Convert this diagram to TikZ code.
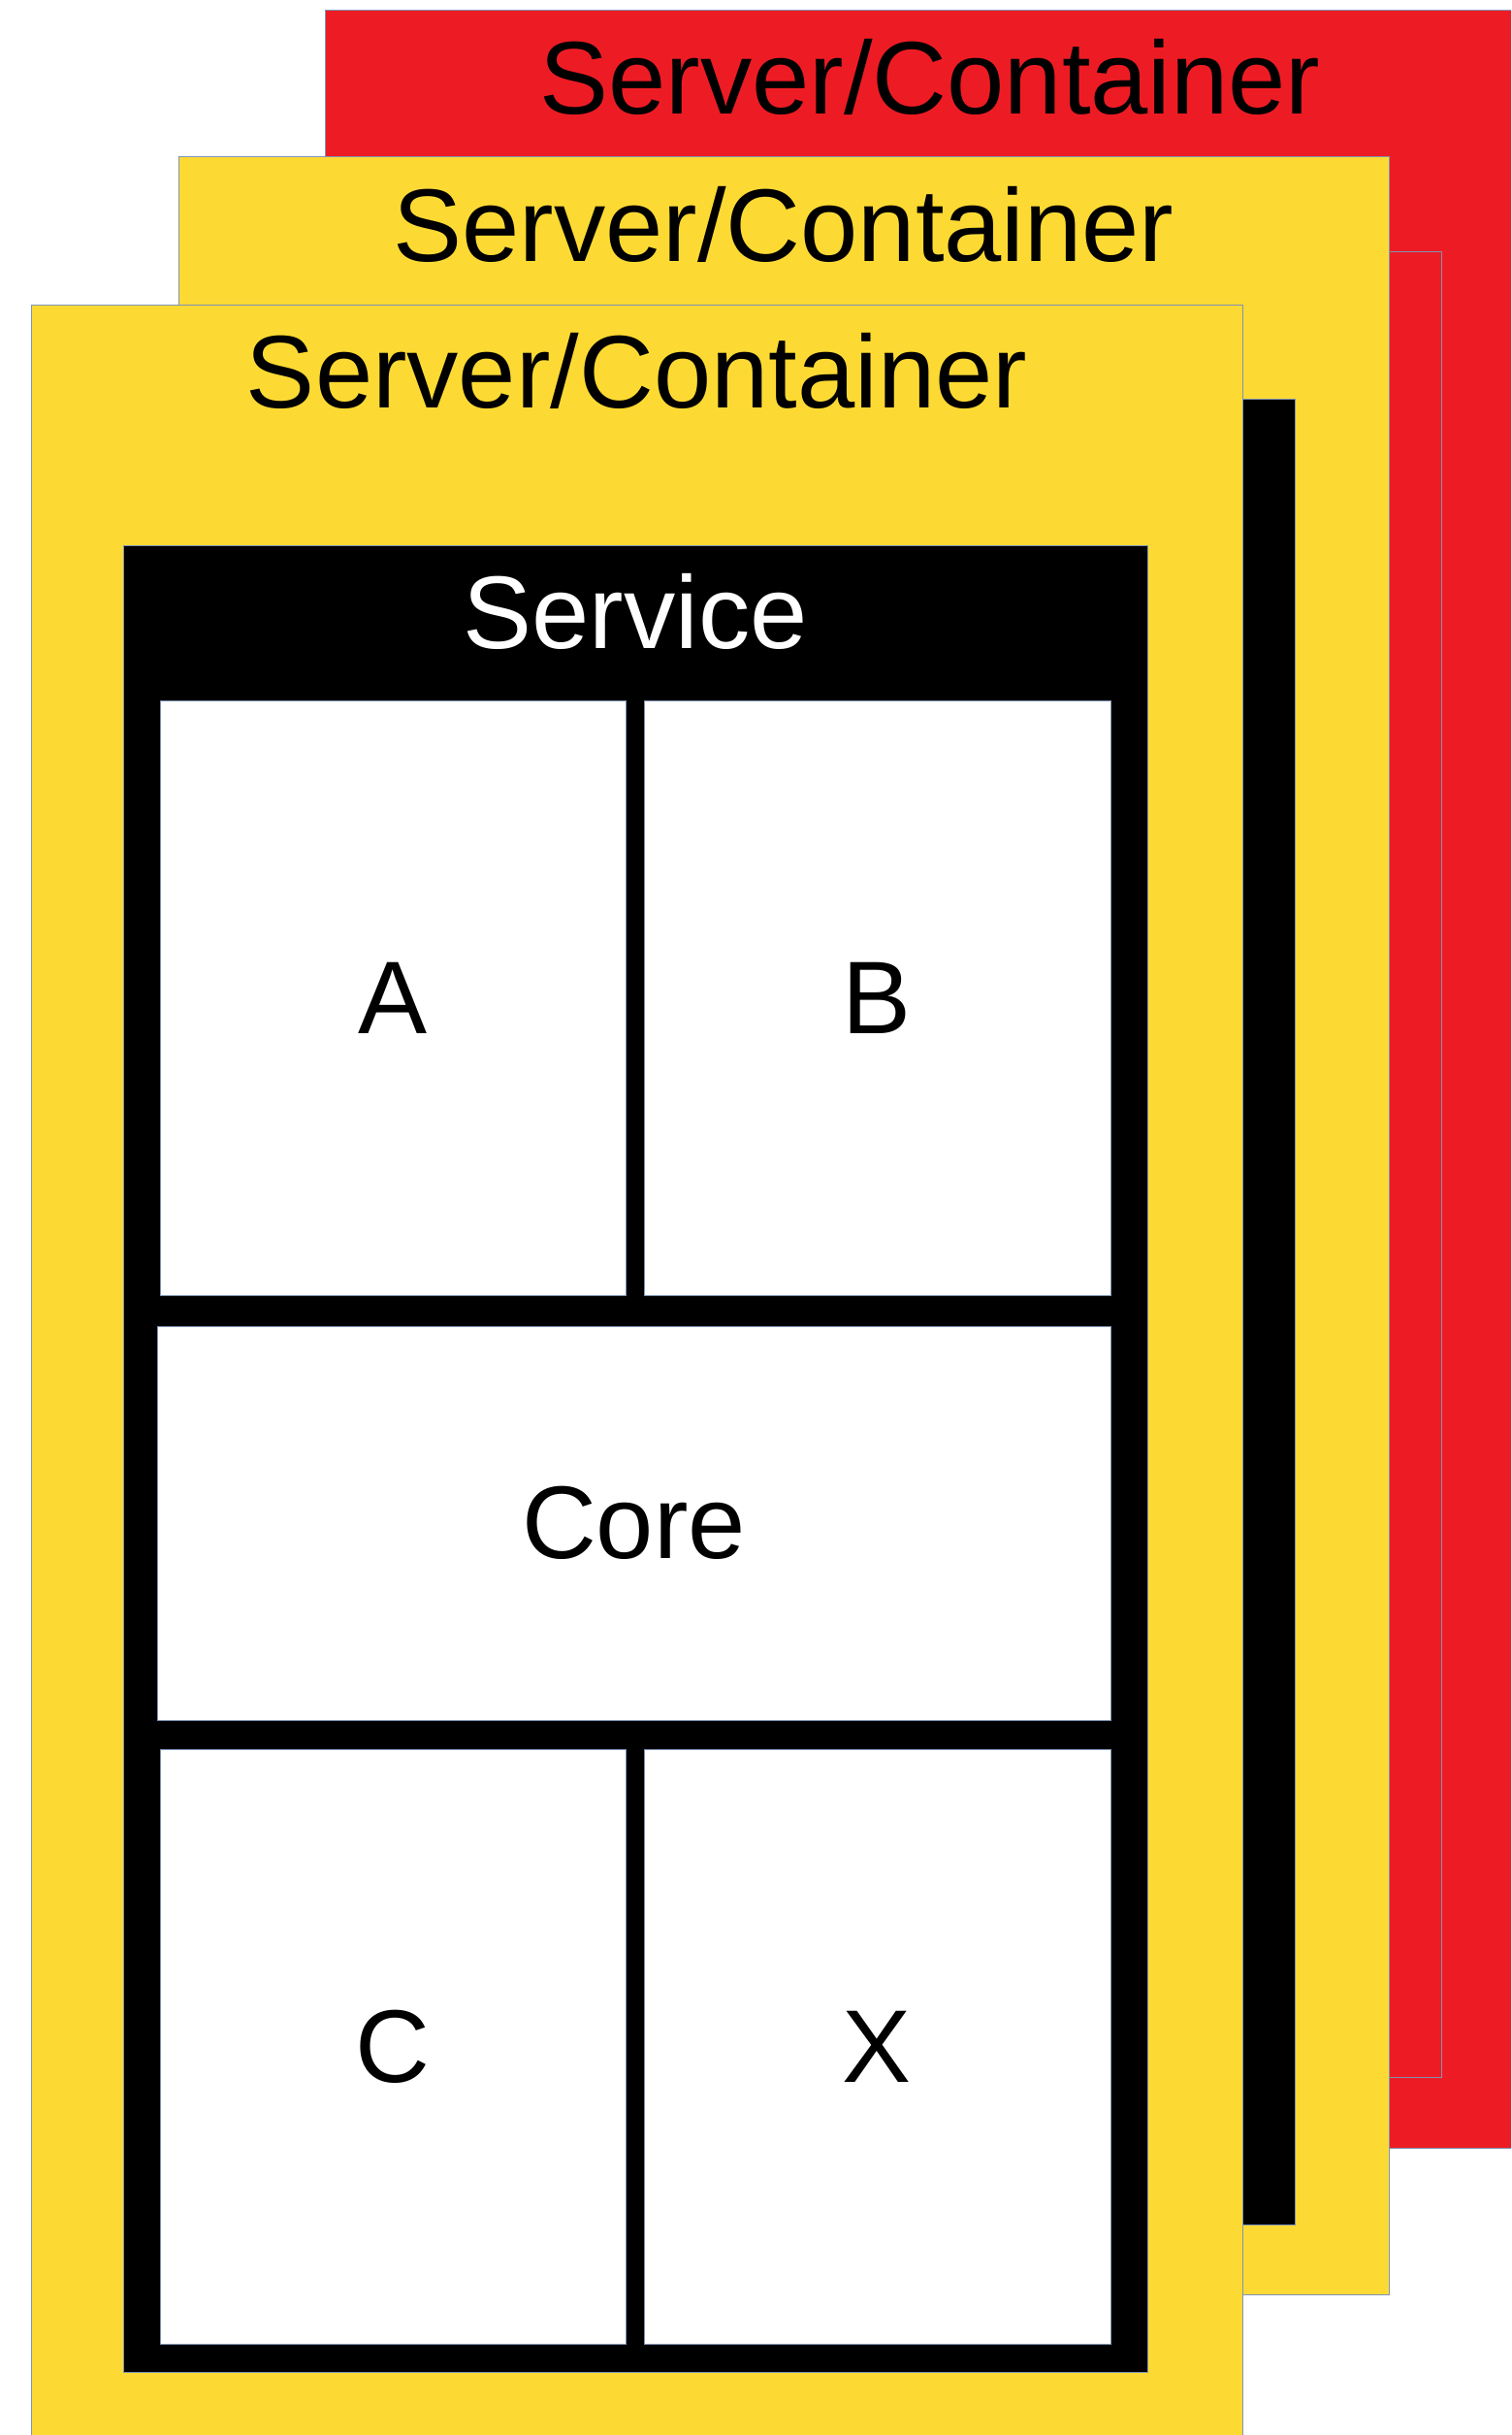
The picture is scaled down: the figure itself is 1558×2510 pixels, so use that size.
\documentclass[tikz,border=0pt]{standalone}
\usepackage{fontspec}
\setmainfont{Liberation Sans}
\definecolor{cred}{HTML}{ED1C24}
\definecolor{cyel}{HTML}{FDDA33}
\definecolor{edgec}{HTML}{7F93B5}
\begin{document}
\begin{tikzpicture}[x=1pt,y=-1pt,
  box/.style={draw=edgec, line width=1pt, anchor=north west, inner sep=0pt, outer sep=0pt,
    font=\fontsize{106.5}{120}\selectfont},
  ttl/.style={anchor=base, inner sep=0pt, font=\fontsize{106.5}{120}\selectfont},
  cell/.style={box, fill=white, text=black}
  ]
\useasboundingbox (0,0) rectangle (1558,2510);
\clip (0,0) rectangle (1558,2510);
% back container (red)
\node[box, fill=cred, minimum width=1248pt, minimum height=2203pt] (srv3) at (335,11) {};
\node[box, fill=cred, minimum width=1056pt, minimum height=1882pt] (svc3) at (430,259) {};
\node[ttl] (t3) at (959,118) {Server/Container};
% middle container (yellow)
\node[box, fill=cyel, minimum width=1248pt, minimum height=2203pt] (srv2) at (184,162) {};
\node[box, fill=black, minimum width=1057pt, minimum height=1882pt] (svc2) at (278,411) {};
\node[ttl] (t2) at (808,269) {Server/Container};
% front container (yellow)
\node[box, fill=cyel, minimum width=1249pt, minimum height=2210pt] (srv1) at (32,314) {};
\node[ttl] (t1) at (656.5,420) {Server/Container};
% service
\node[box, fill=black, minimum width=1056pt, minimum height=1883pt] (svc1) at (127,562) {};
\node[ttl, text=white] (ts) at (655,668) {Service};
% cells
\node[cell, minimum width=480pt, minimum height=613pt] (A) at (165,722) {A};
\node[cell, minimum width=481pt, minimum height=613pt] (B) at (664,722) {B};
\node[cell, minimum width=983pt, minimum height=406pt] (core) at (162,1367) {Core};
\node[cell, minimum width=480pt, minimum height=613pt] (C) at (165,1803) {C};
\node[cell, minimum width=481pt, minimum height=613pt] (X) at (664,1803) {X};
\end{tikzpicture}
\end{document}
